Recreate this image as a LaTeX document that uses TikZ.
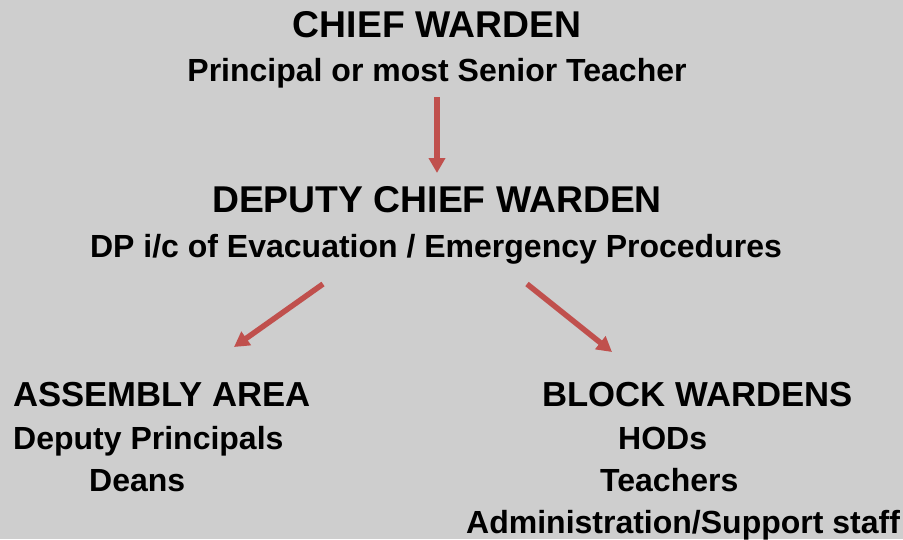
\documentclass[tikz,border=0pt]{standalone}
\usepackage{fontspec}
\setmainfont{Liberation Sans}
\usetikzlibrary{arrows.meta}
\definecolor{bggray}{RGB}{206,206,206}
\definecolor{arrred}{RGB}{192,80,77}
\begin{document}
\begin{tikzpicture}[x=1pt,y=-1pt,
        top/.style={inner sep=0pt,font=\bfseries\fontsize{37.3}{44}\selectfont},
        head/.style={inner sep=0pt,font=\bfseries\fontsize{34.7}{42}\selectfont},
        sub/.style={inner sep=0pt,font=\bfseries\fontsize{32}{38}\selectfont},
        arr/.style={draw=arrred,line width=5.5pt,-{Triangle[length=15pt,width=16pt]}}]
        \fill[bggray] (0,0) rectangle (903,539);
        \useasboundingbox (0,0) rectangle (903,539);

        \node[top,anchor=base] (chief) at (437,37) {CHIEF WARDEN};
        \node[sub,anchor=base] (chiefsub) at (437,81) {Principal or most Senior Teacher};

        \node[top,anchor=base] (deputy) at (437,212) {DEPUTY CHIEF WARDEN};
        \node[sub,anchor=base] (deputysub) at (436,257) {DP i/c of Evacuation / Emergency Procedures};

        \node[head,anchor=base west] (assembly) at (13,406) {ASSEMBLY AREA};
        \node[sub,anchor=base west] (dps) at (13,449) {Deputy Principals};
        \node[sub,anchor=base west] (deans) at (89,491) {Deans};

        \node[head,anchor=base west] (blockw) at (542,406) {BLOCK WARDENS};
        \node[sub,anchor=base west] (hods) at (618,449) {HODs};
        \node[sub,anchor=base west] (teachers) at (600,491) {Teachers};
        \node[sub,anchor=base west] (admin) at (466,533) {Administration/Support staff};

        \draw[arr] ([yshift=-16pt]chiefsub.base) -- ([yshift=39pt]deputy.base);
        \draw[arr] ([xshift=-113pt,yshift=-27pt]deputysub.base) -- ([xshift=221pt,yshift=59pt]assembly.base west);
        \draw[arr] ([xshift=91pt,yshift=-27pt]deputysub.base) -- ([xshift=70pt,yshift=54pt]blockw.base west);
\end{tikzpicture}
\end{document}
